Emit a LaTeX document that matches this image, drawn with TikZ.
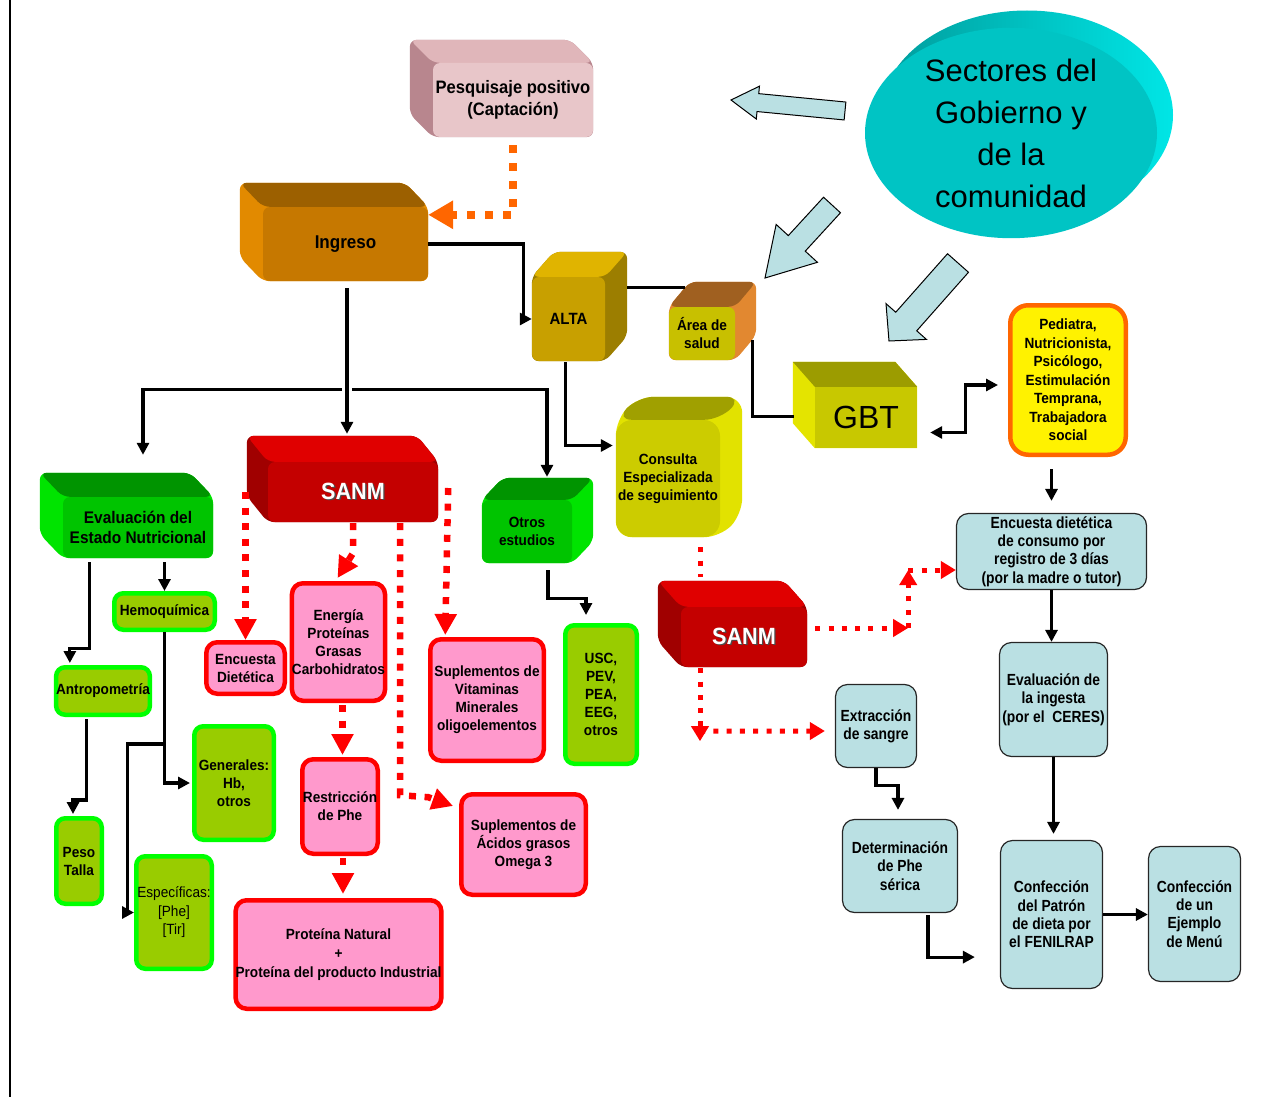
\documentclass[tikz,border=0pt]{standalone}
\usepackage{fontspec}
\setmainfont{Liberation Sans}[FakeStretch=0.92]
\newfontfamily\plainfont{Liberation Sans}
\newfontfamily\narrowfont{Liberation Sans}[FakeStretch=0.86]
\usetikzlibrary{arrows.meta,calc,shapes.geometric,backgrounds}

% Colours
\definecolor{pinkfill}{RGB}{255,153,204}
\definecolor{olivefill}{RGB}{153,204,0}
\definecolor{limeline}{RGB}{0,255,0}
\definecolor{bluefill}{RGB}{186,224,227}
\definecolor{orangeline}{RGB}{255,102,0}
\definecolor{tealfront}{RGB}{0,196,196}
\definecolor{tealdark}{RGB}{0,156,156}
\definecolor{tealbright}{RGB}{0,230,230}
\definecolor{pesqfront}{RGB}{232,198,201}
\definecolor{pesqtop}{RGB}{224,182,186}
\definecolor{pesqside}{RGB}{184,134,142}
\definecolor{ingfront}{RGB}{198,120,0}
\definecolor{ingtop}{RGB}{156,96,0}
\definecolor{ingside}{RGB}{226,138,0}
\definecolor{altafront}{RGB}{200,160,0}
\definecolor{altatop}{RGB}{224,180,0}
\definecolor{altaside}{RGB}{156,126,0}
\definecolor{areafront}{RGB}{200,192,0}
\definecolor{areatop}{RGB}{160,96,32}
\definecolor{areaside}{RGB}{226,136,48}
\definecolor{gbtfront}{RGB}{200,200,0}
\definecolor{gbttop}{RGB}{156,156,0}
\definecolor{gbtside}{RGB}{228,228,0}
\definecolor{consfront}{RGB}{204,204,0}
\definecolor{constop}{RGB}{160,160,0}
\definecolor{consside}{RGB}{226,226,0}
\definecolor{sanmfront}{RGB}{196,0,0}
\definecolor{sanmtop}{RGB}{224,0,0}
\definecolor{sanmside}{RGB}{160,0,0}
\definecolor{greenfront}{RGB}{0,196,0}
\definecolor{greentop}{RGB}{0,148,0}
\definecolor{greenside}{RGB}{0,228,0}

\tikzset{
  box/.style={rectangle, inner sep=0pt, align=center, font=\bfseries\fontsize{14.8}{18}\selectfont},
  front/.style={box, rounded corners=7pt},
  pinkbox/.style={box, rounded corners=11pt, fill=pinkfill, draw=red, line width=4.5pt},
  greenbox/.style={box, rounded corners=9pt, fill=olivefill, draw=limeline, line width=4.5pt},
  bluebox/.style={box, rounded corners=12pt, fill=bluefill, draw=black!85, line width=1.2pt,
    font=\narrowfont\bfseries\fontsize{16.1}{18.3}\selectfont},
  bluearrow/.style={fill=bluefill, draw=black, line width=1pt, line join=miter},
  wire/.style={line width=3.2pt},
  link/.style={wire, -{Triangle[length=12pt,width=12pt]}},
  twoway/.style={wire, {Triangle[length=12pt,width=12pt]}-{Triangle[length=12pt,width=12pt]}},
  reddots/.style={red, line width=6.5pt, dash pattern=on 7pt off 8.6pt, -{Triangle[length=21pt,width=21pt]}},
  smalldots/.style={red, line width=5pt, dash pattern=on 5pt off 8.3pt, -{Triangle[length=15pt,width=17pt]}},
  orangedots/.style={orangeline, line width=8pt, dash pattern=on 8pt off 10pt, -{Triangle[length=25pt,width=27pt]}}
}

% back of a block, seen up-left / up-right of the front face
\newcommand{\backleft}[5][7pt]{%
  \begin{pgfonlayer}{background}
    \fill[#5, rounded corners=#1] ($(#2.north west)+(#3)$) -- ($(#2.north east)+(#3)$) -- (#2.north east)
      -- (#2.south east) -- (#2.south west) -- ($(#2.south west)+(#3)$) -- cycle;
    \fill[#4, rounded corners=#1] ($(#2.north west)+(#3)$) -- ($(#2.north east)+(#3)$) -- (#2.north east)
      -- (#2.north west) -- cycle;
  \end{pgfonlayer}}
\newcommand{\backright}[5][7pt]{%
  \begin{pgfonlayer}{background}
    \fill[#5, rounded corners=#1] (#2.north west) -- ($(#2.north west)+(#3)$) -- ($(#2.north east)+(#3)$)
      -- ($(#2.south east)+(#3)$) -- (#2.south east) -- (#2.south west) -- cycle;
    \fill[#4, rounded corners=#1] (#2.north west) -- ($(#2.north west)+(#3)$) -- ($(#2.north east)+(#3)$)
      -- (#2.north east) -- cycle;
  \end{pgfonlayer}}

% fat arrow: tail, tip, shaft half width, head half width, head length
\newcommand{\fatarrow}[5]{%
  \coordinate (h) at ($(#2)!#5!(#1)$);
  \draw[bluearrow] ($(#1)!#3!90:(#2)$) -- ($(h)!#3!90:(#2)$) -- ($(h)!#4!90:(#2)$) -- (#2)
    -- ($(h)!#4!-90:(#2)$) -- ($(h)!#3!-90:(#2)$) -- ($(#1)!#3!-90:(#2)$) -- cycle;}

\newcommand{\embossed}[1]{\rlap{\kern1.4pt\raisebox{-1.4pt}{\textcolor{black!70}{#1}}}\textcolor{white}{#1}}

\begin{document}
\begin{tikzpicture}[x=1pt, y=-1pt]

	\useasboundingbox (0,0) rectangle (1275,1097);
	\draw[line width=1.6pt] (10,0) -- (10,1097);

	% Sectores del Gobierno

	\node[ellipse, fill=tealfront, inner sep=0pt, minimum width=292, minimum height=209, align=center,
	  font=\plainfont\fontsize{31}{42}\selectfont] (sectores) at (1011,133) {Sectores del\\Gobierno y\\de la\\comunidad};
	\begin{pgfonlayer}{background}
		\shade[left color=tealdark, right color=tealbright] ($(sectores.center)+(16,-18)$) ellipse [x radius=146pt, y radius=104.5pt];
	\end{pgfonlayer}

	\coordinate (a1tail) at (845,111);
	\coordinate (a1tip) at (731,100);
	\coordinate (a2tail) at (832,205);
	\coordinate (a2tip) at (765,278);
	\coordinate (a3tail) at (958,263);
	\coordinate (a3tip) at (889,341);
	\fatarrow{a1tail}{a1tip}{9pt}{16.5pt}{27pt}
	\fatarrow{a2tail}{a2tip}{11.5pt}{28pt}{47pt}
	\fatarrow{a3tail}{a3tip}{14pt}{27pt}{26pt}

	% Blocks

	\node[front, fill=pesqfront, minimum width=160, minimum height=74, font=\bfseries\fontsize{18}{21.5}\selectfont]
	  (pesquisaje) at (513,100) {Pesquisaje positivo\\(Captación)};
	\backleft{pesquisaje}{-23,-23}{pesqtop}{pesqside}

	\node[front, fill=ingfront, minimum width=165, minimum height=74, font=\bfseries\fontsize{18.5}{22}\selectfont]
	  (ingreso) at (345.5,244) {Ingreso};
	\backleft{ingreso}{-23,-24}{ingtop}{ingside}

	\node[front, fill=altafront, minimum width=73, minimum height=84, font=\bfseries\fontsize{16.3}{20}\selectfont]
	  (alta) at (568.5,319) {ALTA};
	\backright{alta}{22,-25}{altatop}{altaside}

	\node[front, fill=areafront, minimum width=66, minimum height=53] (area) at (702,333.5) {Área de\\salud};
	\backright{area}{21,-25}{areatop}{areaside}

	\node[front, sharp corners, fill=gbtfront, minimum width=102, minimum height=61, font=\plainfont\fontsize{32}{36}\selectfont]
	  (gbt) at (866,417.5) {GBT};
	\backleft[0pt]{gbt}{-22,-25}{gbttop}{gbtside}

	\node[front, rounded corners=16pt, fill=consfront, minimum width=104, minimum height=117]
	  (consulta) at (668,478.5) {Consulta\\Especializada\\de seguimiento};
	\backright[16pt]{consulta}{22,-23}{constop}{consside}

	\node[front, fill=sanmfront, minimum width=170, minimum height=60, font=\bfseries\fontsize{23.5}{28}\selectfont]
	  (sanm1) at (353,492) {\embossed{SANM}};
	\backleft{sanm1}{-21,-26}{sanmtop}{sanmside}

	\node[front, fill=greenfront, minimum width=150, minimum height=61, font=\bfseries\fontsize{16.8}{20}\selectfont]
	  (eval) at (138,527.5) {Evaluación del\\Estado Nutricional};
	\backleft{eval}{-23,-24}{greentop}{greenside}

	\node[front, fill=greenfront, minimum width=90, minimum height=63] (otros) at (527,531.5) {Otros\\estudios};
	\backright{otros}{21,-22}{greentop}{greenside}

	\node[front, fill=sanmfront, minimum width=126, minimum height=60, font=\bfseries\fontsize{23.5}{28}\selectfont]
	  (sanm2) at (744,637) {\embossed{SANM}};
	\backleft{sanm2}{-23,-26}{sanmtop}{sanmside}

	% Boxes

	\node[greenbox, minimum width=100.5, minimum height=36.5] (hemo) at (164.5,611.5) {Hemoquímica};
	\node[greenbox, minimum width=91.5, minimum height=47.5] (antro) at (103,691) {Antropometría};
	\node[greenbox, minimum width=45.5, minimum height=85.5] (peso) at (79,861) {Peso\\Talla};
	\node[greenbox, minimum width=79.5, minimum height=113.5] (generales) at (234,783) {Generales:\\Hb,\\otros};
	\node[greenbox, minimum width=75.5, minimum height=112.5, font=\fontsize{14.8}{18.5}\selectfont]
	  (especificas) at (174,912.5) {Específicas:\\{[Phe]}\\{[Tir]}};
	\node[greenbox, minimum width=71.5, minimum height=138.5] (usc) at (601,694.5) {USC,\\PEV,\\PEA,\\EEG,\\otros};

	\node[pinkbox, minimum width=78.5, minimum height=51.5] (enc1) at (245.5,668) {Encuesta\\Dietética};
	\node[pinkbox, minimum width=90.5, minimum height=117.5] (energia) at (338.5,642) {Energía\\Proteínas\\Grasas\\Carbohidratos};
	\node[pinkbox, minimum width=113.5, minimum height=121.5] (vitaminas) at (487,700) {Suplementos de\\Vitaminas\\Minerales\\oligoelementos};
	\node[pinkbox, minimum width=75.5, minimum height=94.5] (restriccion) at (340,806.5) {Restricción\\de Phe};
	\node[pinkbox, minimum width=202.5, minimum height=108.5, font=\bfseries\fontsize{14.8}{18.7}\selectfont]
	  (proteina) at (338.5,954.5) {Proteína Natural\\+\\Proteína del producto Industrial};
	\node[pinkbox, minimum width=124.5, minimum height=100.5] (omega) at (523.5,844.5) {Suplementos de\\Ácidos grasos\\Omega 3};

	\node[box, rounded corners=18pt, fill=yellow, draw=orangeline, line width=4.5pt, minimum width=115.5, minimum height=149.5,
	  font=\bfseries\fontsize{14.8}{18.5}\selectfont] (equipo) at (1068,380)
	  {Pediatra,\\Nutricionista,\\Psicólogo,\\Estimulación\\Temprana,\\Trabajadora\\social};

	\node[bluebox, minimum width=190, minimum height=76] (encuesta2) at (1051.5,551.5) {Encuesta dietética\\de consumo por\\registro de 3 días\\(por la madre o tutor)};
	\node[bluebox, minimum width=108, minimum height=114] (ingesta) at (1053.5,699.5) {Evaluación de\\la ingesta\\(por el \ CERES)};
	\node[bluebox, minimum width=81, minimum height=83] (extraccion) at (876,726) {Extracción\\de sangre};
	\node[bluebox, minimum width=115, minimum height=93] (determinacion) at (900,866) {Determinación\\de Phe\\sérica};
	\node[bluebox, minimum width=102, minimum height=148] (patron) at (1051.5,914.5) {Confección\\del Patrón\\de dieta por\\el FENILRAP};
	\node[bluebox, minimum width=92, minimum height=135] (menu) at (1194.5,914) {Confección\\de un\\Ejemplo\\de Menú};

	% Connectors

	\draw[orangedots] ($(pesquisaje.south)+(0,8)$) |- ($(ingreso.north east)+(0,8)$);

	\draw[link] (ingreso.east) -- ++(95,0) |- (alta.west);
	\coordinate (split) at ($(ingreso.south)+(1.5,108)$);
	\draw[link] (split) -| ($(eval.north)+(5,-42)$);
	\draw[link] (split) -| ($(otros.north)+(20,-23)$);
	\draw[link, shorten >=28pt, preaction={draw=white, line width=10pt, -}] ($(ingreso.south)+(1.5,7)$) -- (split |- sanm1.north);

	\draw[wire] ($(alta.north east)+(22,11)$) -- ($(area.north west)+(16,-19)$);
	\draw[link] ($(alta.south)+(-3,1)$) |- ($(consulta.west)+(-3,-33)$);
	\draw[wire] ($(area.south east)+(17,-20)$) |- ($(gbt.west)+(-21,-1)$);
	\draw[twoway] ($(gbt.east)+(13,15)$) -- ++(35,0) |- ($(equipo.west)+(-10,5)$);

	\draw[link, shorten <=4pt] (eval.south -| hemo.north) -- (hemo.north);
	\draw[link] ($(eval.south west)+(27,4)$) -- ++(0,86) -| ($(antro.north west)+(16,-2)$);
	\draw[link] ($(antro.south west)+(33,2)$) -- ++(0,81) -| ($(peso.north)+(-6,-2)$);
	\draw[link, shorten >=2pt] (hemo.south) |- (generales.west);
	\draw[link] ($(hemo.south)+(0,112)$) -- ++(-37,0) |- (especificas.west);
	\draw[link] ($(otros.south)+(21,7)$) -- ++(0,28) -| ($(usc.north)+(-15,-8)$);

	\draw[reddots] (enc1.north |- sanm1.center) -- (enc1.north);
	\draw[reddots] ($(sanm1.south)+(0,1)$) -- ++(0,30) -- ($(energia.north)+(-1,-3)$);
	\draw[reddots] ($(sanm1.south east)+(-38,1)$) -- ++(0,272) -- ++(28,2) -- ($(omega.north west)+(-6,14)$);
	\draw[reddots] ($(sanm1.east)+(10,-4)$) -- ($(vitaminas.north west)+(17.25,-2)$);
	\draw[reddots] ($(energia.south)+(4,2)$) -- ($(energia.south |- restriccion.north)+(4,-2)$);
	\draw[reddots] ($(restriccion.south)+(3,2)$) -- ($(restriccion.south |- proteina.north)+(3,-4)$);

	\draw[smalldots, -] ($(consulta.south)+(32,10)$) -- ($(sanm2.north)+(-44,-30)$);
	\coordinate (turn1) at ($(sanm2.east)+(101,-9)$);
	\coordinate (turn2) at ($(turn1)+(0,-58)$);
	\draw[smalldots] ($(sanm2.east)+(8,-9)$) -- (turn1);
	\draw[smalldots] (turn1) -- (turn2);
	\draw[smalldots] (turn2) -- (turn2 -| encuesta2.west);
	\coordinate (turn3) at ($(sanm2.south)+(-44,74)$);
	\draw[smalldots] ($(sanm2.south)+(-44,1)$) -- (turn3);
	\draw[smalldots] ($(turn3)+(0,-10)$) -- ($(extraccion.west)+(-10,5)$);

	\draw[link, shorten <=12pt] (equipo.south -| encuesta2.north) -- ($(encuesta2.north)+(0,-12)$);
	\draw[link] (encuesta2.south) -- (encuesta2.south |- ingesta.north);
	\draw[link] (ingesta.south) -- ($(ingesta.south |- patron.north)+(0,-6)$);
	\draw[link] (patron.east) -- (patron.east -| menu.west);
	\draw[link] (extraccion.south) -- ++(0,17) -| ($(determinacion.north)+(-2,-9)$);
	\draw[link] ($(determinacion.south)+(28,2)$) |- ($(patron.south west)+(-25,-32)$);

\end{tikzpicture}
\end{document}
